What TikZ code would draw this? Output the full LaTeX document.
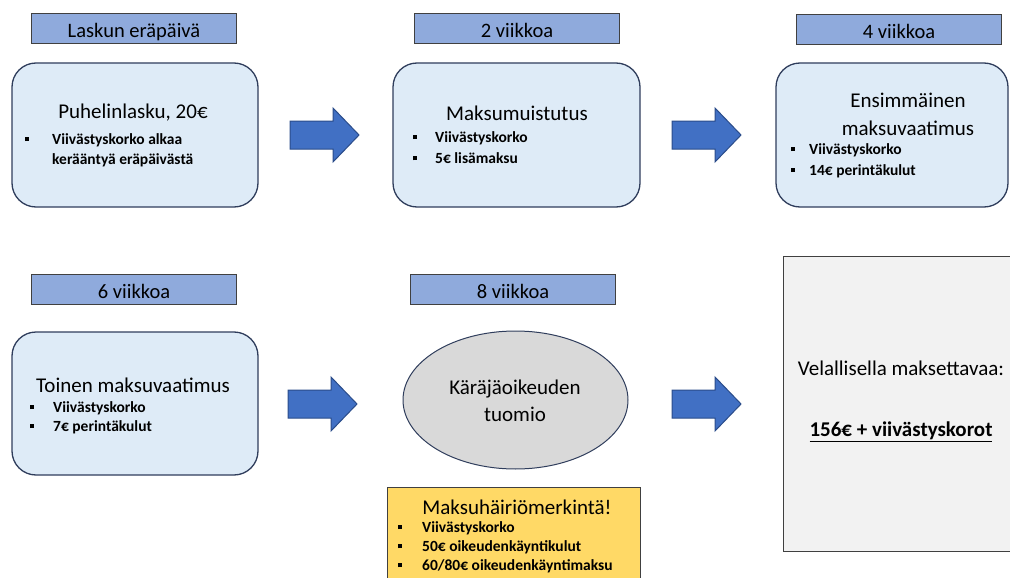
\documentclass[tikz,border=0pt]{standalone}
\usepackage{fontspec}
\setmainfont{Carlito}
\usetikzlibrary{shapes.geometric}
\definecolor{lblfill}{HTML}{8FAADC}
\definecolor{lbldraw}{HTML}{404040}
\definecolor{boxfill}{HTML}{DEEBF7}
\definecolor{boxdraw}{HTML}{2F3D5C}
\definecolor{arrfill}{HTML}{4170C4}
\definecolor{arrdraw}{HTML}{2A4C8A}
\definecolor{ellfill}{HTML}{D9D9D9}
\definecolor{yelfill}{HTML}{FFD966}
\definecolor{gryfill}{HTML}{F2F2F2}
\tikzset{
  lbl/.style={draw=lbldraw, fill=lblfill, line width=1pt, minimum width=205pt, minimum height=30pt, inner sep=0pt, text height=20pt, text depth=2pt, font=\fontsize{20.5}{24}\selectfont},
  stage/.style={draw=boxdraw, fill=boxfill, line width=1.3pt, rounded corners=24pt, inner sep=0pt},
  ttl/.style={inner sep=0pt, align=center, font=\fontsize{21}{28}\selectfont},
  bul/.style={inner sep=0pt, anchor=west, font=\bfseries\fontsize{15.5}{20}\selectfont},
  barrow/.style={draw=arrdraw, fill=arrfill, line width=1pt},
  pics/blockarrow/.style={code={\draw[barrow] (0,-14) -- (43,-14) -- (43,-27) -- (69,0) -- (43,27) -- (43,14) -- (0,14) -- cycle;}}
}
\newcommand\bdot[1]{\llap{\raisebox{3pt}{\rule{4pt}{4pt}}\hspace{#1pt}}}
\begin{document}
\begin{tikzpicture}[x=1pt,y=-1pt]
\useasboundingbox (0,0) rectangle (1010,578);
\clip (0,0) rectangle (1010,578);
% labels
\node[lbl] (l1) at (134,29) {Laskun eräpäivä};
\node[lbl] (l2) at (517,29) {2 viikkoa};
\node[lbl] (l3) at (899,29.5) {4 viikkoa};
\node[lbl] (l4) at (134,289) {6 viikkoa};
\node[lbl] (l5) at (513,289) {8 viikkoa};
% stage boxes
\node[stage, minimum width=246pt, minimum height=144pt] (b1) at (135,135) {};
\node[stage, minimum width=247pt, minimum height=144pt] (b2) at (516.5,135) {};
\node[stage, minimum width=232pt, minimum height=144pt] (b3) at (892,135) {};
\node[stage, minimum width=246pt, minimum height=143pt] (b4) at (135,403.5) {};
\node[ellipse, draw=boxdraw, fill=ellfill, line width=1pt, minimum width=225pt, minimum height=138pt, inner sep=0pt] (court) at (515.5,400) {};
\node[draw=lbldraw, fill=yelfill, line width=1pt, minimum width=253pt, minimum height=110pt, anchor=north west, inner sep=0pt] (mark) at (387,487) {};
\node[draw=lbldraw, fill=gryfill, line width=1.2pt, minimum width=240pt, minimum height=295pt, anchor=north west, inner sep=0pt] (total) at (783,256) {};
% arrows
\pic at (290,135) {blockarrow};
\pic at (672,135) {blockarrow};
\pic at (288,404) {blockarrow};
\pic at (672,404) {blockarrow};
% box 1
\node[ttl] (t1) at (133,113) {Puhelinlasku, 20€};
\node[bul] (t1a) at (52,140) {\bdot{23}Viivästyskorko alkaa};
\node[bul] (t1b) at (52,160) {kerääntyä eräpäivästä};
% box 2
\node[ttl] (t2) at (517,113) {Maksumuistutus};
\node[bul] (t2a) at (435,138) {\bdot{18}Viivästyskorko};
\node[bul] (t2b) at (435,158) {\bdot{18}5€ lisämaksu};
% box 3
\node[ttl] (t3) at (908,114) {Ensimmäinen\\maksuvaatimus};
\node[bul] (t3a) at (809,150) {\bdot{14}Viivästyskorko};
\node[bul] (t3b) at (809,171) {\bdot{14}14€ perintäkulut};
% box 4
\node[ttl] (t4) at (133,385) {Toinen maksuvaatimus};
\node[bul] (t4a) at (53,408) {\bdot{19}Viivästyskorko};
\node[bul] (t4b) at (53,427) {\bdot{19}7€ perintäkulut};
% court
\node[ttl, font=\fontsize{21}{27}\selectfont] (t5) at (515,401) {Käräjäoikeuden\\tuomio};
% yellow
\node[ttl] (t6) at (517,507) {Maksuhäiriömerkintä!};
\node[bul] (t6a) at (422,528) {\bdot{20}Viivästyskorko};
\node[bul] (t6b) at (422,547) {\bdot{20}50€ oikeudenkäyntikulut};
\node[bul] (t6c) at (422,566) {\bdot{20}60/80€ oikeudenkäyntimaksu};
% total
\node[ttl] (t7) at (901,368) {Velallisella maksettavaa:};
\node[ttl, font=\bfseries\fontsize{21}{28}\selectfont] (t7b) at (901,432) {\underline{156€ + viivästyskorot}};
\end{tikzpicture}
\end{document}
